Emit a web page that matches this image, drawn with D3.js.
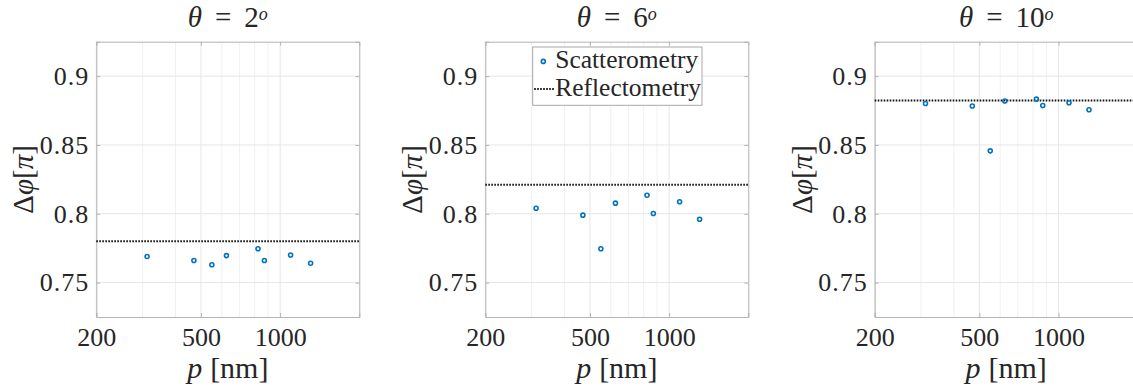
<!DOCTYPE html>
<html>
<head>
<meta charset="utf-8">
<script src="https://cdn.jsdelivr.net/npm/d3@7"></script>
<style>
  body { margin: 0; background: #fff; }
  svg { display: block; }
  text { font-family: "Liberation Serif", "Times New Roman", serif; fill: #262626; }
</style>
</head>
<body>
<div id="chart"></div>
<script>
// data
var angles = [2, 6, 10];
var periods = [312, 470, 550, 625, 824, 871, 1096, 1306];
var scatter2 = [0.769, 0.766, 0.763, 0.7696, 0.7746, 0.766, 0.770, 0.764];
var scatter6 = [0.804, 0.799, 0.7746, 0.8077, 0.8135, 0.8002, 0.8087, 0.796];
var scatter10 = [0.8801, 0.8783, 0.8457, 0.8819, 0.8833, 0.8787, 0.8807, 0.8756];
var reflecto = [0.780, 0.821, 0.8823];
var xTicks = [200, 500, 1000];
var xMinor = [300, 400, 600, 700, 800, 900, 2000];
var yTicks = [0.75, 0.8, 0.85, 0.9];
var yTickLabels = ["0.75", "0.8", "0.85", "0.9"];

var scatters = [scatter2, scatter6, scatter10];

var W = 1133, H = 392;
var panelLeft = [96.3, 485.3, 874.7];
var pw = 263, panelTop = 41.7, ph = 275.3;

var svg = d3.select("#chart").append("svg")
  .attr("width", W)
  .attr("height", H);

var x = d3.scaleLog().domain([200, 2000]).range([0, pw]);
var y = d3.scaleLinear().domain([0.725, 0.925]).range([ph, 0]);

var boxCol = "#b4b4b4";

angles.forEach(function(a, i) {
  var g = svg.append("g")
    .attr("transform", "translate(" + panelLeft[i] + "," + panelTop + ")");

  g.append("rect")
    .attr("width", pw).attr("height", ph)
    .attr("fill", "#fff");

  // minor grid
  g.selectAll(".minor").data(xMinor).enter().append("line")
    .attr("x1", function(d) { return x(d); })
    .attr("x2", function(d) { return x(d); })
    .attr("y1", 0).attr("y2", ph)
    .attr("stroke", "#f1f1f1").attr("stroke-width", 1);

  // major grid
  g.selectAll(".gx").data(xTicks).enter().append("line")
    .attr("x1", function(d) { return x(d); })
    .attr("x2", function(d) { return x(d); })
    .attr("y1", 0).attr("y2", ph)
    .attr("stroke", "#e6e6e6").attr("stroke-width", 1);

  g.selectAll(".gy").data(yTicks).enter().append("line")
    .attr("x1", 0).attr("x2", pw)
    .attr("y1", function(d) { return y(d); })
    .attr("y2", function(d) { return y(d); })
    .attr("stroke", "#e6e6e6").attr("stroke-width", 1);

  // axes with inward ticks
  var yAx = g.append("g").call(d3.axisLeft(y).tickValues(yTicks)
      .tickSize(-4).tickPadding(7)
      .tickFormat(function(d, k) { return yTickLabels[k]; }));
  var yAxR = g.append("g").attr("transform", "translate(" + pw + ",0)")
    .call(d3.axisRight(y).tickValues(yTicks).tickSize(-4).tickFormat(""));
  var xAx = g.append("g").attr("transform", "translate(0," + ph + ")")
    .call(d3.axisBottom(x).tickValues(xTicks).tickSize(-4)
      .tickFormat(d3.format("d")));
  var xAxT = g.append("g")
    .call(d3.axisTop(x).tickValues(xTicks).tickSize(-4).tickFormat(""));

  [yAx, yAxR, xAx, xAxT].forEach(function(ax) {
    ax.select(".domain").attr("stroke", boxCol);
    ax.selectAll(".tick line").attr("stroke", boxCol);
    ax.selectAll(".tick text")
      .style("font-family", "'Liberation Serif', serif")
      .style("font-size", "26px")
      .attr("fill", "#262626");
  });
  yAx.selectAll(".tick text").style("letter-spacing", "1px");
  xAx.selectAll(".tick text").attr("y", 29).attr("dy", 0);

  // reflectometry line
  g.append("line")
    .attr("x1", 0).attr("x2", pw)
    .attr("y1", y(reflecto[i])).attr("y2", y(reflecto[i]))
    .attr("stroke", "#111")
    .attr("stroke-width", 2)
    .attr("stroke-dasharray", "1.6,1.4");

  // scatterometry points
  g.selectAll(".pt").data(scatters[i]).enter().append("circle")
    .attr("cx", function(d, k) { return x(periods[k]); })
    .attr("cy", function(d) { return y(d); })
    .attr("r", 2)
    .attr("fill", "none")
    .attr("stroke", "#0072BD")
    .attr("stroke-width", 1.6);

  // title
  var t = g.append("text")
    .attr("x", pw / 2).attr("y", -15)
    .attr("text-anchor", "middle")
    .style("font-size", "29px")
    .attr("fill", "#000");
  t.append("tspan").style("font-style", "italic").text("θ");
  t.append("tspan").attr("dx", 13).text("=");
  t.append("tspan").attr("dx", 13).text(a);
  t.append("tspan").style("font-style", "italic").style("font-size", "18px")
    .attr("dy", -7).text("o");

  // x label
  var xl = g.append("text")
    .attr("x", pw / 2).attr("y", ph + 61)
    .attr("text-anchor", "middle")
    .style("font-size", "30px");
  xl.append("tspan").style("font-style", "italic").text("p");
  xl.append("tspan").attr("dx", 8).text("[nm]");

  // y label
  var yl = g.append("text")
    .attr("transform", "translate(-63," + (ph / 2) + ") rotate(-90)")
    .attr("text-anchor", "middle")
    .style("font-size", "29px");
  yl.append("tspan").text("Δ");
  yl.append("tspan").style("font-style", "italic").text("φ");
  yl.append("tspan").text("[");
  yl.append("tspan").style("font-style", "italic").text("π");
  yl.append("tspan").text("]");

  // legend in the middle panel
  if (i === 1) {
    var lg = g.append("g").attr("transform", "translate(47.4,5.3)");
    lg.append("rect")
      .attr("width", 169.3).attr("height", 58.3)
      .attr("fill", "#fff").attr("stroke", "#a8a8a8").attr("stroke-width", 1);
    lg.append("circle")
      .attr("cx", 10.6).attr("cy", 14.4).attr("r", 2)
      .attr("fill", "none").attr("stroke", "#0072BD").attr("stroke-width", 1.6);
    lg.append("line")
      .attr("x1", 1.5).attr("x2", 21.5).attr("y1", 42).attr("y2", 42)
      .attr("stroke", "#111").attr("stroke-width", 2)
      .attr("stroke-dasharray", "1.6,1.4");
    lg.append("text").attr("x", 22.5).attr("y", 20.5)
      .style("font-size", "25.5px").attr("fill", "#000").text("Scatterometry");
    lg.append("text").attr("x", 22.5).attr("y", 48.5)
      .style("font-size", "25.5px").attr("fill", "#000").text("Reflectometry");
  }
});
</script>
</body>
</html>
